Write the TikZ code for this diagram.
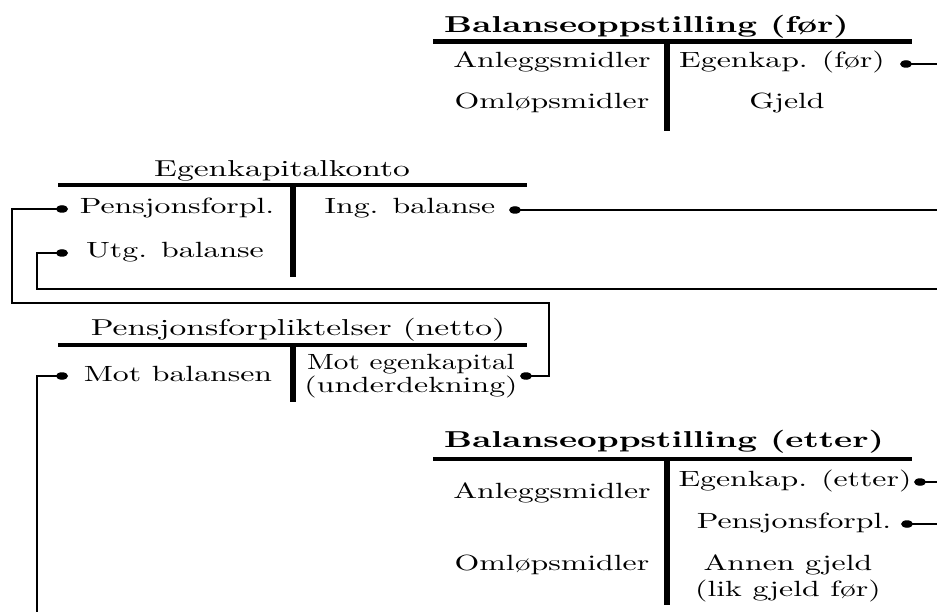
\documentclass[tikz,border=0pt]{standalone}
\usepackage{graphicx}
\usetikzlibrary{shapes.geometric}
% text is set at 10pt (design size 10) and scaled up, wider than high
\newcommand{\tx}[1]{\scalebox{3.18}[2.2]{#1}}
\newcommand{\txn}[1]{\scalebox{2.92}[2.2]{#1}}
\newcommand{\txt}[1]{\scalebox{3.35}[2.3]{#1}}
\newcommand{\txb}[1]{\scalebox{3.43}[2.3]{\bfseries #1}}
\begin{document}
\begin{tikzpicture}[x=1pt,y=-1pt,
  lbl/.style={inner sep=0pt, anchor=base, font=\fontsize{10}{12}\selectfont},
  hbar/.style={line width=4.5pt},
  vbar/.style={line width=5.5pt},
  conn/.style={line width=2.3pt},
  dotn/.style={ellipse, fill=black, draw=none, inner sep=0pt, minimum width=12pt, minimum height=7.5pt}]
\useasboundingbox (0,0) rectangle (937,612);

% ---------- Balanseoppstilling (før) ----------
\node[lbl, anchor=base west] (t1) at (444,33) {\txb{Balanseoppstilling (før)}};
\draw[hbar] (433,41.5) -- (912,41.5);
\draw[vbar] (667,41.5) -- (667,131);
\node[lbl] (a1) at (552,68) {\tx{Anleggsmidler}};
\node[lbl] (o1) at (552,109) {\tx{Omløpsmidler}};
\node[lbl] (e1) at (782,68) {\tx{Egenkap. (før)}};
\node[lbl] (g1) at (787,109) {\tx{Gjeld}};
\node[dotn] (dE1) at (906,64) {};
\coordinate (xE1) at (937,64);

% ---------- Egenkapitalkonto ----------
\node[lbl] (t2) at (282,177) {\txt{Egenkapitalkonto}};
\draw[hbar] (58,185) -- (527,185);
\draw[vbar] (293,185) -- (293,277);
\node[lbl] (p2) at (177,214) {\tx{Pensjonsforpl.}};
\node[lbl] (i2) at (410,214) {\tx{Ing. balanse}};
\node[lbl] (u2) at (175,258) {\tx{Utg. balanse}};
\node[dotn] (dP2) at (62,209) {};
\node[dotn] (dI2) at (515,210) {};
\node[dotn] (dU2) at (62,253) {};
\coordinate (xI2) at (937,210);
\coordinate (xU2) at (937,289);

% ---------- Pensjonsforpliktelser (netto) ----------
\node[lbl] (t3) at (298,335) {\txt{Pensjonsforpliktelser (netto)}};
\draw[hbar] (58,345) -- (527,345);
\draw[vbar] (293,345) -- (293,402);
\node[lbl] (m3) at (178,381) {\tx{Mot balansen}};
\node[lbl] (k3a) at (411,369) {\txn{Mot egenkapital}};
\node[lbl] (k3b) at (411,392) {\tx{(underdekning)}};
\node[dotn] (dM3) at (62,376) {};
\node[dotn] (dK3) at (526,376) {};
\coordinate (xM3) at (37,612);

% ---------- Balanseoppstilling (etter) ----------
\node[lbl, anchor=base west] (t4) at (444,447) {\txb{Balanseoppstilling (etter)}};
\draw[hbar] (433,459) -- (912,459);
\draw[vbar] (667,459) -- (667,605);
\node[lbl] (a4) at (552,498) {\tx{Anleggsmidler}};
\node[lbl] (o4) at (552,570) {\tx{Omløpsmidler}};
\node[lbl] (e4) at (795,486) {\tx{Egenkap. (etter)}};
\node[lbl] (p4) at (794,528) {\tx{Pensjonsforpl.}};
\node[lbl] (g4a) at (788,570) {\tx{Annen gjeld}};
\node[lbl] (g4b) at (788,596) {\tx{(lik gjeld før)}};
\node[dotn] (dE4) at (920,482) {};
\node[dotn] (dP4) at (907,524) {};
\coordinate (xE4) at (937,482);
\coordinate (xP4) at (937,524);

% ---------- connectors ----------
\draw[conn] (dE1.center) -- (xE1);
\draw[conn] (dI2.center) -- (xI2);
\draw[conn] (dU2.center) -- ++(-25,0) |- (xU2);
\draw[conn] (dP2.center) -- ++(-50,0) |- (549,303) |- (dK3.center);
\draw[conn] (dM3.center) -- ++(-25,0) -- (xM3);
\draw[conn] (dE4.center) -- (xE4);
\draw[conn] (dP4.center) -- (xP4);
\end{tikzpicture}
\end{document}
